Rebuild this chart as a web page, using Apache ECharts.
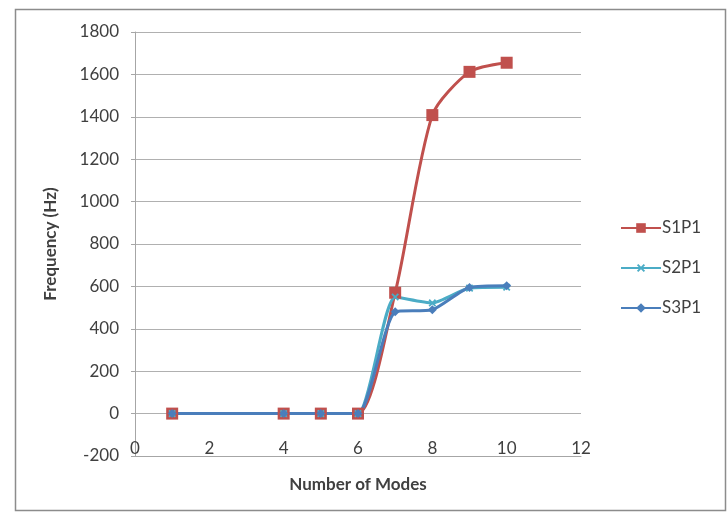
<!DOCTYPE html>
<html>
<head>
<meta charset="utf-8">
<script src="https://cdn.jsdelivr.net/npm/echarts@6/dist/echarts.min.js"></script>
<style>
  html, body { margin: 0; padding: 0; background: #fff; }
  #main { width: 728px; height: 518px; }
</style>
</head>
<body>
<div id="main"></div>
<script>
  // 数据
  var modes = [1, 4, 5, 6, 7, 8, 9, 10];
  var s1p1 = [0, 0, 0, 0, 570, 1408, 1612, 1655];
  var s2p1 = [0, 0, 0, 0, 550, 522, 592, 596];
  var s3p1 = [0, 0, 0, 0, 480, 490, 595, 603];

  function pairs(ys) {
    return modes.map(function (x, i) { return [x, ys[i]]; });
  }

  var myChart = echarts.init(document.getElementById('main'));
  var font = 'Lato, "Liberation Sans", sans-serif';

  var option = {
    backgroundColor: '#fff',
    animation: false,
    textStyle: { fontFamily: font },
    graphic: [{
      type: 'rect',
      left: 13, top: 7,
      shape: { width: 710, height: 501 },
      style: { fill: 'none', stroke: '#8c8c8c', lineWidth: 1.5 },
      silent: true
    }],
    grid: { left: 135, top: 32, right: 147, bottom: 62 },
    legend: {
      orient: 'vertical',
      left: 620,
      top: 219,
      padding: 0,
      itemWidth: 40,
      itemHeight: 12,
      itemGap: 22,
      textStyle: { fontSize: 17, lineHeight: 18, color: '#404040', fontFamily: font, padding: [0, 0, 0, -4] },
      data: ['S1P1', 'S2P1', 'S3P1']
    },
    xAxis: {
      type: 'value',
      min: 0, max: 12, interval: 2,
      name: 'Number of Modes',
      nameLocation: 'middle',
      nameGap: 20,
      nameTextStyle: { fontSize: 17, fontWeight: 'bold', color: '#404040', fontFamily: font },
      axisLine: { onZero: false, lineStyle: { color: '#a6a6a6', width: 1 } },
      axisTick: { show: false },
      axisLabel: { fontSize: 17, color: '#404040', margin: -16 },
      splitLine: { show: false }
    },
    yAxis: {
      type: 'value',
      min: -200, max: 1800, interval: 200,
      name: 'Frequency (Hz)',
      nameLocation: 'middle',
      nameGap: 76,
      nameTextStyle: { fontSize: 17, fontWeight: 'bold', color: '#404040', fontFamily: font },
      axisLine: { show: true, lineStyle: { color: '#a6a6a6', width: 1 } },
      axisTick: { show: true, length: 4, lineStyle: { color: '#a6a6a6' } },
      axisLabel: { fontSize: 17, color: '#404040', margin: 16, formatter: function (v) { return String(v); } },
      splitLine: { show: true, lineStyle: { color: '#b0b0b0', width: 1 } }
    },
    series: [
      {
        name: 'S1P1',
        type: 'line',
        data: pairs(s1p1),
        smooth: 0.25,
        symbol: 'rect',
        symbolSize: 12,
        lineStyle: { color: '#c0504d', width: 3 },
        itemStyle: { color: '#c0504d' }
      },
      {
        name: 'S2P1',
        type: 'line',
        data: pairs(s2p1),
        smooth: 0.2,
        symbol: 'path://M4,0H6V4H10V6H6V10H4V6H0V4H4Z',
        symbolRotate: 45,
        symbolSize: 9,
        lineStyle: { color: '#4bacc6', width: 3 },
        itemStyle: { color: '#4bacc6' }
      },
      {
        name: 'S3P1',
        type: 'line',
        data: pairs(s3p1),
        smooth: 0.2,
        symbol: 'diamond',
        symbolSize: 9,
        lineStyle: { color: '#4a7ebb', width: 3 },
        itemStyle: { color: '#4a7ebb' }
      }
    ]
  };

  myChart.setOption(option);
</script>
</body>
</html>
